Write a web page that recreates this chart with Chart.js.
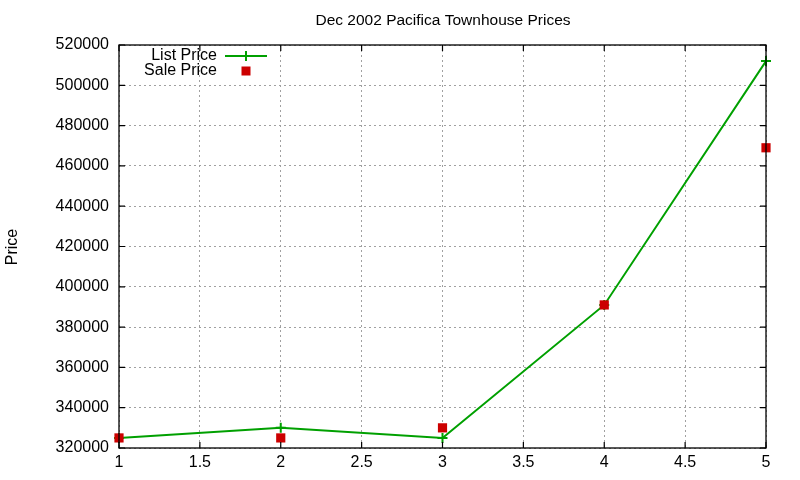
<!DOCTYPE html>
<html><head><meta charset="utf-8">
<script src="https://cdn.jsdelivr.net/npm/chart.js@4/dist/chart.umd.min.js"></script>
<style>html,body{margin:0;padding:0;background:#fff}#wrap{width:800px;height:480px}</style>
</head><body><div id="wrap"><canvas id="c" width="800" height="480"></canvas></div>
<script>
const chartTitle = "Dec 2002 Pacifica Townhouse Prices";
const yAxisTitle = "Price";
const xValues = [1, 2, 3, 4, 5];
const listPrice = [325000, 330000, 325000, 391000, 512000];
const salePrice = [325000, 325000, 330000, 391000, 469000];
const seriesNames = ["List Price", "Sale Price"];

const FONT = "'Liberation Sans', Arial, sans-serif";

const frame = {
  id: 'frame',
  afterDraw(chart) {
    const {ctx, chartArea: a, scales} = chart;
    ctx.save();
    ctx.strokeStyle = '#000'; ctx.lineWidth = 1.3; ctx.setLineDash([]);
    ctx.strokeRect(a.left, a.top, a.right - a.left, a.bottom - a.top);
    ctx.lineWidth = 1.2;
    scales.x.ticks.forEach(t => {
      const px = scales.x.getPixelForValue(t.value);
      ctx.beginPath();
      ctx.moveTo(px, a.bottom); ctx.lineTo(px, a.bottom - 6);
      ctx.moveTo(px, a.top); ctx.lineTo(px, a.top + 6);
      ctx.stroke();
    });
    scales.y.ticks.forEach(t => {
      const py = scales.y.getPixelForValue(t.value);
      ctx.beginPath();
      ctx.moveTo(a.left, py); ctx.lineTo(a.left + 6, py);
      ctx.moveTo(a.right, py); ctx.lineTo(a.right - 6, py);
      ctx.stroke();
    });
    ctx.fillStyle = '#000';
    ctx.font = '15.5px ' + FONT;
    ctx.textAlign = 'center'; ctx.textBaseline = 'middle';
    ctx.fillText(chartTitle, (a.left + a.right) / 2 + 0.5, 21);
    ctx.font = '16px ' + FONT;
    ctx.translate(13, 247); ctx.rotate(-Math.PI / 2);
    ctx.fillText(yAxisTitle, 0, 0);
    ctx.restore();
    ctx.save();
    ctx.font = '16px ' + FONT;
    ctx.textAlign = 'right'; ctx.textBaseline = 'middle';
    ctx.fillStyle = '#000';
    const ds = chart.data.datasets;
    const ys = [56, 71];
    ctx.fillText(ds[0].label, 217, ys[0]);
    ctx.fillText(ds[1].label, 217, ys[1]);
    ctx.strokeStyle = ds[0].borderColor; ctx.lineWidth = 2;
    ctx.beginPath(); ctx.moveTo(225, ys[0]); ctx.lineTo(267, ys[0]);
    ctx.moveTo(246, ys[0] - 5); ctx.lineTo(246, ys[0] + 5); ctx.stroke();
    ctx.fillStyle = ds[1].backgroundColor;
    ctx.fillRect(241.5, ys[1] - 4.5, 9, 9);
    ctx.restore();
  }
};

new Chart(document.getElementById('c'), {
  type: 'scatter',
  data: {
    datasets: [
      {
        label: seriesNames[0],
        data: xValues.map((x, i) => ({x, y: listPrice[i]})),
        showLine: true, clip: false,
        borderColor: '#00a000', backgroundColor: '#00a000',
        borderWidth: 2, tension: 0,
        pointStyle: 'cross', pointRadius: 5, pointBorderWidth: 2,
        order: 2
      },
      {
        label: seriesNames[1],
        data: xValues.map((x, i) => ({x, y: salePrice[i]})),
        showLine: false, clip: false,
        borderColor: '#cc0000', backgroundColor: '#cc0000',
        pointStyle: 'rect', pointRadius: 6.5, pointBorderWidth: 0,
        order: 1
      }
    ]
  },
  options: {
    responsive: false, animation: false, devicePixelRatio: 1,
    layout: {padding: {left: 0, top: 45, right: 34, bottom: 0}},
    plugins: {legend: {display: false}, title: {display: false}, tooltip: {enabled: false}},
    scales: {
      x: {
        type: 'linear', min: 1, max: 5,
        afterFit(s) { s.height = 32; },
        grid: {color: '#a0a0a0', lineWidth: 1, drawTicks: false},
        border: {display: false, dash: [2, 3]},
        ticks: {stepSize: 0.5, padding: 5, color: '#000', font: {family: FONT, size: 16},
                maxRotation: 0, autoSkip: false, callback: v => String(v)}
      },
      y: {
        type: 'linear', min: 320000, max: 520000,
        afterFit(s) { s.width = 119; },
        grid: {color: '#a0a0a0', lineWidth: 1, drawTicks: false},
        border: {display: false, dash: [2, 3]},
        ticks: {stepSize: 20000, padding: 10, color: '#000', font: {family: FONT, size: 16},
                callback: v => String(v)}
      }
    }
  },
  plugins: [frame]
});
</script></body></html>
